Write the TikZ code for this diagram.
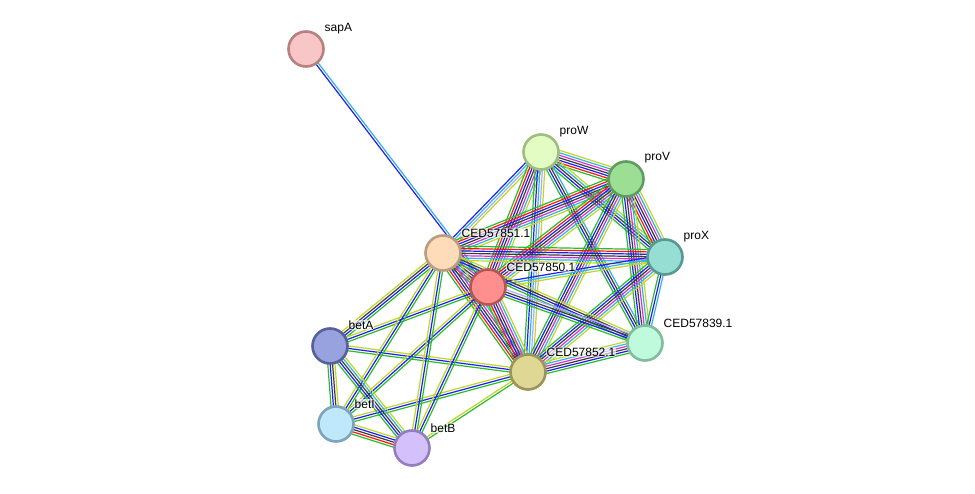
\documentclass[tikz,border=0pt]{standalone}
\usepackage{fontspec}
\setmainfont{Liberation Sans}
\usetikzlibrary{calc,backgrounds}
\definecolor{G}{RGB}{40,190,40}
\definecolor{R}{RGB}{255,20,20}
\definecolor{B}{RGB}{30,30,240}
\definecolor{K}{RGB}{60,60,60}
\definecolor{M}{RGB}{210,50,210}
\definecolor{C}{RGB}{50,180,220}
\definecolor{Y}{RGB}{190,215,40}
\definecolor{L}{RGB}{170,170,255}
\tikzset{
  prot/.style={circle,minimum size=35pt,inner sep=0pt,line width=2.6pt},
  ln/.style={line width=1.2pt},
  lab/.style={anchor=west,font=\fontsize{12}{14}\selectfont,inner xsep=0.5pt,inner ysep=0.5pt,
    fill=white,fill opacity=0.65,text opacity=1,rounded corners=2pt}
}
\newcommand\ed[3]{%
  \foreach \cc [count=\i] in {#3} {\xdef\nn{\i}}%
  \foreach \cc [count=\i] in {#3} {%
    \pgfmathsetmacro\off{(\i-(\nn+1)/2)*2.4}%
    \draw[\cc,ln] ($(#1)!\off pt!90:(#2)$) -- ($(#2)!\off pt!-90:(#1)$);
  }}
\begin{document}
\begin{tikzpicture}[x=1pt,y=-1pt]
\useasboundingbox (0,0) rectangle (975,494);
\node[prot,fill={rgb,255:red,248;green,198;blue,198},draw={rgb,255:red,184;green,128;blue,128}] (sapA) at (306,49) {};
\node[prot,fill={rgb,255:red,226;green,252;blue,196},draw={rgb,255:red,160;green,190;blue,128}] (proW) at (541,152) {};
\node[prot,fill={rgb,255:red,156;green,222;blue,148},draw={rgb,255:red,96;green,156;blue,96}] (proV) at (626,179) {};
\node[prot,fill={rgb,255:red,150;green,222;blue,212},draw={rgb,255:red,88;green,154;blue,146}] (proX) at (665,257) {};
\node[prot,fill={rgb,255:red,254;green,220;blue,186},draw={rgb,255:red,186;green,156;blue,126}] (cA) at (443,253) {};
\node[prot,fill={rgb,255:red,255;green,142;blue,142},draw={rgb,255:red,180;green,86;blue,86}] (cB) at (488,287) {};
\node[prot,fill={rgb,255:red,152;green,162;blue,222},draw={rgb,255:red,86;green,96;blue,154}] (betA) at (330,346) {};
\node[prot,fill={rgb,255:red,192;green,250;blue,220},draw={rgb,255:red,128;green,188;blue,158}] (c39) at (645,343) {};
\node[prot,fill={rgb,255:red,222;green,216;blue,148},draw={rgb,255:red,156;green,148;blue,88}] (c52) at (528,372) {};
\node[prot,fill={rgb,255:red,192;green,232;blue,252},draw={rgb,255:red,124;green,164;blue,186}] (betI) at (336,424) {};
\node[prot,fill={rgb,255:red,212;green,192;blue,250},draw={rgb,255:red,148;green,126;blue,190}] (betB) at (412,448) {};
\begin{scope}[on background layer]
\fill[white] (0,0) rectangle (975,494);
\ed{sapA}{cB}{B,C}
\ed{proW}{proV}{G,R,B,K,M,C,Y}
\ed{proW}{proX}{G,B,K,C,Y}
\ed{proW}{cA}{B,C,L,Y}
\ed{proW}{cB}{G,R,B,K,M,C,Y}
\ed{proW}{c52}{G,B,C,L,Y}
\ed{proW}{c39}{G,B,K,C}
\ed{proV}{proX}{G,R,B,K,M,C,Y}
\ed{proV}{cA}{G,R,B,K,M,C,Y}
\ed{proV}{cB}{G,R,B,K,M,C,Y}
\ed{proV}{c52}{G,B,K,M,C,Y}
\ed{proV}{c39}{G,B,K,M,C,Y}
\ed{proX}{cA}{G,R,B,K,M,C,Y}
\ed{proX}{cB}{B,C,Y}
\ed{proX}{c52}{G,B,K,M,C,Y}
\ed{proX}{c39}{G,B,C}
\ed{cA}{cB}{G,R,B,K,M,C,Y}
\ed{cA}{c52}{G,R,B,K,M,C,Y}
\ed{cA}{c39}{G,B,K,Y}
\ed{cB}{c52}{G,R,B,K,M,C,Y}
\ed{cB}{c39}{G,B,K,L}
\ed{c52}{c39}{G,B,K,M,C,Y}
\ed{betA}{cA}{G,B,K,Y}
\ed{betA}{cB}{G,B,Y}
\ed{betA}{c52}{G,B,Y}
\ed{betI}{cA}{G,B,Y}
\ed{betI}{cB}{G,B,Y}
\ed{betI}{c52}{G,B,Y}
\ed{betB}{cA}{G,B,Y}
\ed{betB}{cB}{G,B,Y}
\ed{betB}{c52}{G,Y}
\ed{betA}{betI}{G,B,K,Y}
\ed{betA}{betB}{G,B,K,C,Y}
\ed{betI}{betB}{G,R,K,B,Y}
\end{scope}
\node[lab] (lsapA) at (324,29) {sapA};
\node[lab] (lproW) at (559,132) {proW};
\node[lab] (lproV) at (644,158) {proV};
\node[lab] (lproX) at (683,237) {proX};
\node[lab] (lcA) at (461,233) {CED57851.1};
\node[lab] (lcB) at (506,267) {CED57850.1};
\node[lab] (lbetA) at (348,325) {betA};
\node[lab] (lc39) at (663,323) {CED57839.1};
\node[lab] (lc52) at (546,352) {CED57852.1};
\node[lab] (lbetI) at (354,404) {betI};
\node[lab] (lbetB) at (430,428) {betB};
\end{tikzpicture}
\end{document}
